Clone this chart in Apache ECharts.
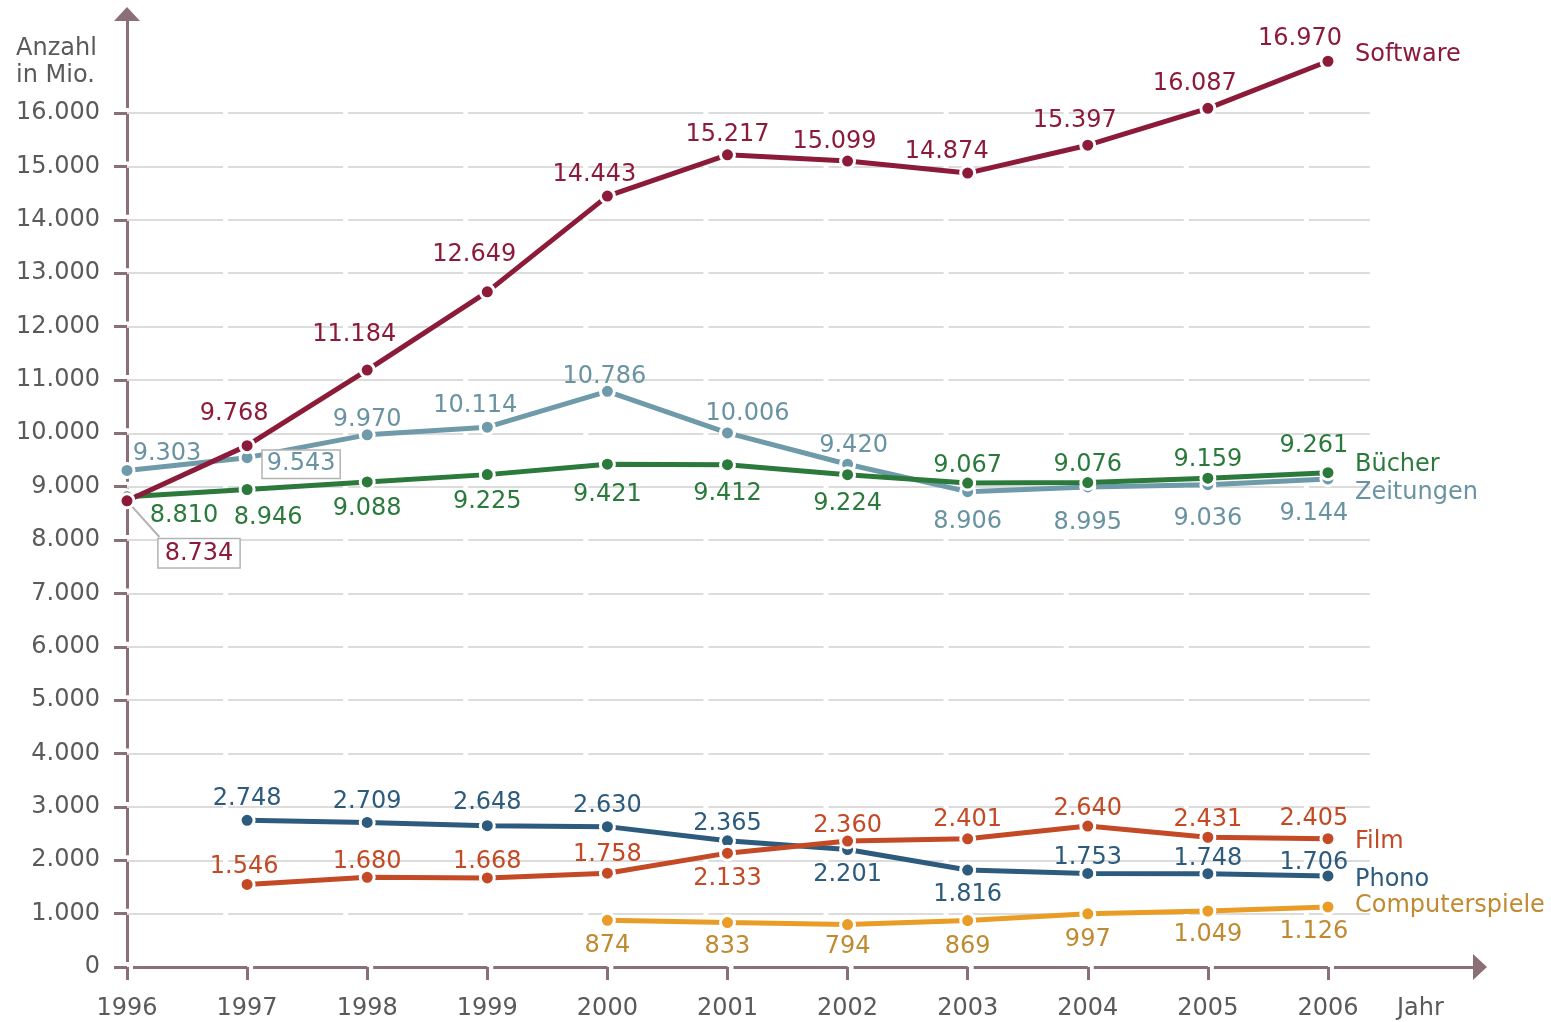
<!DOCTYPE html>
<html>
<head>
<meta charset="utf-8">
<script src="https://cdn.jsdelivr.net/npm/echarts@6/dist/echarts.min.js"></script>
<style>html,body{margin:0;padding:0;background:#fff}#c{width:1551px;height:1022px}</style>
</head>
<body>
<div id="c"></div>
<script>
// ---------- data ----------
const years = [1996, 1997, 1998, 1999, 2000, 2001, 2002, 2003, 2004, 2005, 2006];
const software = [8734, 9768, 11184, 12649, 14443, 15217, 15099, 14874, 15397, 16087, 16970];
const zeitungen = [9303, 9543, 9970, 10114, 10786, 10006, 9420, 8906, 8995, 9036, 9144];
const buecher = [8810, 8946, 9088, 9225, 9421, 9412, 9224, 9067, 9076, 9159, 9261];
const film = [null, 1546, 1680, 1668, 1758, 2133, 2360, 2401, 2640, 2431, 2405];
const phono = [null, 2748, 2709, 2648, 2630, 2365, 2201, 1816, 1753, 1748, 1706];
const computerspiele = [null, null, null, null, 874, 833, 794, 869, 997, 1049, 1126];
const yTicks = [0, 1000, 2000, 3000, 4000, 5000, 6000, 7000, 8000, 9000, 10000, 11000, 12000, 13000, 14000, 15000, 16000];

// ---------- layout (label offsets in px, not data) ----------
const offSoftware = [[72,50],[-13,-34],[-13,-38],[-13,-40],[-13,-24],[0,-23],[-13,-22],[-21,-24],[-13,-27],[-13,-27],[-28,-25]];
const offZeitungen = [[40,-19],[54,4],[0,-18],[-12,-24],[-3,-17],[20,-22],[6,-21],[0,28],[0,33],[0,32],[-14,32]];
const offBuecher = [[57,16],[21,26],[0,24],[0,25],[0,28],[0,27],[0,27],[0,-20],[0,-20],[0,-21],[-14,-29]];
const offFilm = [null,[-3,-20],[0,-18],[0,-19],[0,-21],[0,23],[0,-18],[0,-22],[0,-20],[0,-20],[-14,-22]];
const offPhono = [null,[0,-24],[0,-23],[0,-25],[0,-23],[0,-20],[0,23],[0,22],[0,-18],[0,-17],[-14,-16]];
const offComp = [null,null,null,null,[0,23],[0,22],[0,20],[0,24],[0,23],[0,21],[-14,22]];

const FONT = 'DejaVu Sans';
const FS = 24;
const LABEL_DY = 2.5;   // glyph-centre correction
const AXIS_COLOR = '#8b6f77';
const TEXT_COLOR = '#5a5a5a';
const GRID = {left: 127, top: 14, width: 1353, height: 953};
const X_MIN = 1996, X_MAX = 2007.266, Y_MAX = 17855;
const PX_YEAR = GRID.width / (X_MAX - X_MIN);
const PX_K = GRID.height / (Y_MAX / 1000);
const GRID_END = 2006.35;

const fmt = v => String(v).replace(/\B(?=(\d{3})+(?!\d))/g, '.');

// axis dash patterns: small gap right after each tick
const xDash = [0, 6];
for (let i = 0; i < years.length - 1; i++) { xDash.push(PX_YEAR - 6, 6); }
xDash.push(3000, 0);
const yDash = [0, 5];
for (let i = 0; i < yTicks.length - 1; i++) { yDash.push(PX_K - 5, 5); }
yDash.push(3000, 0);

const boxStyle = {backgroundColor: '#fff', borderColor: '#b3b3b3', borderWidth: 1.5};

function makeSeries(name, values, color, labelColor, offsets, nameDy, z, boxed) {
  const data = [];
  years.forEach((y, i) => {
    if (values[i] == null) return;
    const lab = {offset: [offsets[i][0], offsets[i][1] + LABEL_DY]};
    if (boxed && boxed[i]) Object.assign(lab, boxStyle, {padding: boxed[i]});
    data.push({value: [y, values[i]], label: lab});
  });
  const lastIdx = values.length - 1;
  return {
    type: 'line', name: name, data: data, z: z,
    symbol: 'circle', symbolSize: 14,
    lineStyle: {color: color, width: 5},
    itemStyle: {color: color, borderColor: '#fff', borderWidth: 3},
    emphasis: {disabled: true},
    label: {
      show: true, position: 'inside', color: labelColor, fontFamily: FONT, fontSize: FS,
      textBorderWidth: 0, align: 'center', verticalAlign: 'middle',
      formatter: p => fmt(p.value[1])
    },
    markPoint: {
      silent: true, z: z, symbol: 'circle', symbolSize: 1, itemStyle: {color: 'rgba(0,0,0,0)'},
      label: {show: true, position: 'right', distance: 26.5, offset: [0, nameDy + LABEL_DY], color: labelColor,
              fontFamily: FONT, fontSize: FS, formatter: name},
      data: [{coord: [years[lastIdx], values[lastIdx]]}]
    },
    animation: false
  };
}

const gridLines = yTicks.filter(v => v > 0).map(v => [{coord: [X_MIN, v]}, {coord: [GRID_END, v]}]);
const leaderStyle = {color: '#b3b3b3', width: 2, type: 'solid'};
const leader = [{coord: [years[0], software[0]], lineStyle: leaderStyle}, {coord: [1996.27, 8056], lineStyle: leaderStyle}];

const chart = echarts.init(document.getElementById('c'), null, {renderer: 'canvas'});
chart.setOption({
  animation: false,
  backgroundColor: '#fff',
  title: [
    {text: 'Anzahl\nin Mio.', left: 16, top: 35, padding: 0,
     textStyle: {fontFamily: FONT, fontSize: FS, fontWeight: 'normal', color: TEXT_COLOR, lineHeight: 27}},
    {text: 'Jahr', left: 1397, top: 997, padding: 0,
     textStyle: {fontFamily: FONT, fontSize: FS, fontWeight: 'normal', color: TEXT_COLOR}}
  ],
  grid: GRID,
  xAxis: {
    type: 'value', min: X_MIN, max: X_MAX,
    axisLine: {show: true, symbol: ['none', 'triangle'], symbolSize: [26, 14],
      lineStyle: {color: AXIS_COLOR, width: 3, cap: 'butt', type: xDash}},
    axisTick: {show: true, length: 13, customValues: years, lineStyle: {color: AXIS_COLOR, width: 3}},
    axisLabel: {customValues: years, margin: 30, color: TEXT_COLOR, fontFamily: FONT, fontSize: FS, formatter: v => String(v)},
    splitLine: {show: false}
  },
  yAxis: {
    type: 'value', min: 0, max: Y_MAX,
    axisLine: {show: true, onZero: false, symbol: ['none', 'triangle'], symbolSize: [26, 14],
      lineStyle: {color: AXIS_COLOR, width: 3, cap: 'butt', type: yDash}},
    axisTick: {show: true, length: 13, customValues: yTicks, lineStyle: {color: AXIS_COLOR, width: 3}},
    axisLabel: {customValues: yTicks, margin: 27, padding: [5, 0, 0, 0], color: TEXT_COLOR, fontFamily: FONT, fontSize: FS, formatter: v => fmt(v)},
    splitLine: {show: false}
  },
  series: [
    {
      type: 'line', name: 'grid', data: [], z: 1, silent: true,
      markLine: {
        silent: true, z: 1, symbol: ['none', 'none'], label: {show: false}, animation: false,
        lineStyle: {color: '#dcdcdc', width: 2, type: [PX_YEAR - 5, 5], dashOffset: PX_YEAR - 5 - 96},
        emphasis: {disabled: true},
        data: gridLines.concat([leader])
      }
    },
    makeSeries('Computerspiele', computerspiele, '#e99d27', '#c08a30', offComp, -4, 3),
    makeSeries('Phono', phono, '#2d5b7d', '#2d5b7d', offPhono, 1, 4),
    makeSeries('Film', film, '#c34a25', '#c34a25', offFilm, 1, 5),
    makeSeries('Zeitungen', zeitungen, '#6f9aa9', '#6a93a2', offZeitungen, 11, 6, [null, [2, 4, 1, 4]]),
    makeSeries('Bücher', buecher, '#2b7a3c', '#2b7a3c', offBuecher, -10, 7),
    makeSeries('Software', software, '#8c1b3a', '#8c1b3a', offSoftware, -9, 8, [[2, 6, 2, 6]])
  ]
});
</script>
</body>
</html>
